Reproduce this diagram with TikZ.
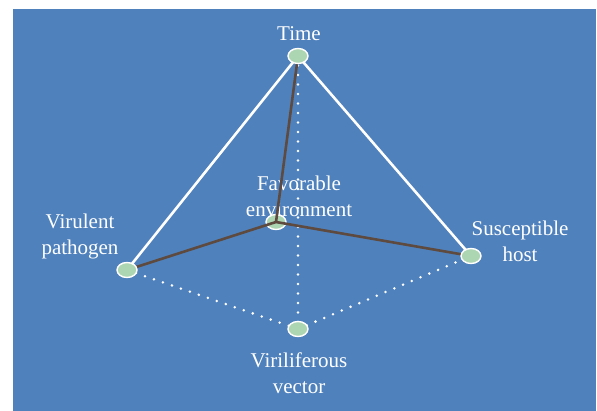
\documentclass[tikz,border=0pt]{standalone}
\usepackage{fontspec}
\setmainfont{Liberation Serif}
\usepackage{xcolor}
\usetikzlibrary{positioning,calc}

\definecolor{slideblue}{RGB}{79,129,189}
\definecolor{edgebrown}{RGB}{94,74,62}
\definecolor{dotgreen}{RGB}{172,213,178}

\tikzset{
  vertex/.style={ellipse, draw=white, line width=1.4pt, fill=dotgreen,
    minimum width=20pt, minimum height=15pt, inner sep=0pt},
  lbl/.style={text=white, align=center, font=\fontsize{21}{26}\selectfont},
  whiteline/.style={draw=white, line width=2.6pt},
  brownline/.style={draw=edgebrown, line width=2.6pt},
  dotline/.style={draw=white, line width=2.8pt, line cap=round,
    dash pattern=on 0pt off 9.5pt},
}
\usetikzlibrary{shapes.geometric}

\begin{document}
\begin{tikzpicture}[x=1pt, y=-1pt]
  \useasboundingbox (0,0) rectangle (597,411);
  % Slide background
  \fill[slideblue] (13,9) rectangle (596,411);

  % Centre of the pyramid sits under its edges
  \node[vertex] (env) at (276,222) {};

  % Corner points
  \coordinate (t) at (298,56);
  \coordinate (p) at (127,270);
  \coordinate (h) at (471,256);
  \coordinate (v) at (298,329);

  % Labels
  \node[lbl] (timelbl) at (299,34) {Time};
  \node[lbl] (envlbl) at (299,196) {Favorable\\environment};
  \node[lbl] (pathlbl) at (80,236) {Virulent\\pathogen};
  \node[lbl] (hostlbl) at (520,241) {Susceptible\\host};
  \node[lbl] (veclbl) at (299,373) {Viriliferous\\vector};

  % Hidden edges (dotted)
  \draw[dotline] (t) -- (v);
  \draw[dotline] (p) -- (v);
  \draw[dotline] (v) -- (h);

  % Front edges
  \draw[whiteline] (t) -- (p);
  \draw[whiteline] (t) -- (h);
  \draw[brownline] (t) -- (env.center);
  \draw[brownline] (p) -- (env.center);
  \draw[brownline] (h) -- (env.center);

  % Corner nodes on top
  \node[vertex] (time) at (t) {};
  \node[vertex] (path) at (p) {};
  \node[vertex] (host) at (h) {};
  \node[vertex] (vec) at (v) {};
\end{tikzpicture}
\end{document}
